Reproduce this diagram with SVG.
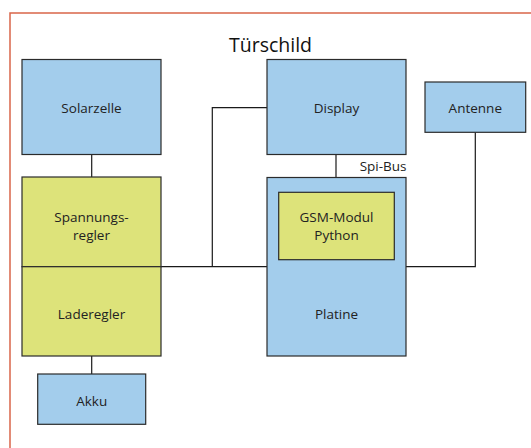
<svg xmlns="http://www.w3.org/2000/svg" width="531" height="448" viewBox="0 0 531 448">
  <style>
    .blue { fill: #a3cdec; stroke: #2b2b2b; stroke-width: 1.2; }
    .green { fill: #dde37a; stroke: #2b2b2b; stroke-width: 1.2; }
    .lbl { font-family: "Open Sans", "Liberation Sans", sans-serif; font-size: 13.5px; fill: #222; text-anchor: middle; }
    .wire { fill: none; stroke: #1a1a1a; stroke-width: 1.2; }
  </style>
  <rect width="531" height="448" fill="#ffffff"/>
  <!-- outer frame -->
  <path d="M10 448 V13 H531" fill="none" stroke="#d9654a" stroke-width="1.5"/>
  <text x="270.5" y="51.5" font-family="Open Sans, Liberation Sans, sans-serif" font-size="19.5" fill="#111" text-anchor="middle">Türschild</text>

  <g id="connectors">
    <line class="wire" x1="91.7" y1="155" x2="91.7" y2="177"/>
    <line class="wire" x1="91.7" y1="356" x2="91.7" y2="374"/>
    <line class="wire" x1="336" y1="155" x2="336" y2="177.5"/>
    <line class="wire" x1="161" y1="266.7" x2="267" y2="266.7"/>
    <path class="wire" d="M212.3 266.7 V107.7 H267"/>
    <path class="wire" d="M406 266.7 H475.3 V132.3"/>
  </g>

  <g id="solarzelle">
    <rect class="blue" x="22" y="59.5" width="139" height="95"/>
    <text class="lbl" x="91.5" y="112.8">Solarzelle</text>
  </g>
  <g id="spannungsregler">
    <rect class="green" x="22" y="177" width="139" height="89.7"/>
    <text class="lbl" x="91.5" y="221.8">Spannungs-</text>
    <text class="lbl" x="91.5" y="240.3">regler</text>
  </g>
  <g id="laderegler">
    <rect class="green" x="22" y="266.7" width="139" height="89.3"/>
    <text class="lbl" x="91.5" y="318.8">Laderegler</text>
  </g>
  <g id="akku">
    <rect class="blue" x="37.7" y="374" width="108" height="50.3"/>
    <text class="lbl" x="91.7" y="406.3">Akku</text>
  </g>
  <g id="display">
    <rect class="blue" x="267" y="59.5" width="139" height="95"/>
    <text class="lbl" x="336.5" y="112.8">Display</text>
  </g>
  <g id="spi-bus">
    <text class="lbl" x="406.5" y="170.8" text-anchor="end" style="text-anchor:end">Spi-Bus</text>
  </g>
  <g id="platine">
    <rect class="blue" x="267" y="177.5" width="139" height="178.5"/>
    <text class="lbl" x="336.5" y="319.3">Platine</text>
  </g>
  <g id="gsm-modul">
    <rect class="green" x="278.7" y="192.3" width="115.6" height="67.4"/>
    <text class="lbl" x="336.5" y="221.8">GSM-Modul</text>
    <text class="lbl" x="336.5" y="239.8">Python</text>
  </g>
  <g id="antenne">
    <rect class="blue" x="425" y="82" width="100.7" height="50.3"/>
    <text class="lbl" x="475.3" y="112.8">Antenne</text>
  </g>
</svg>
